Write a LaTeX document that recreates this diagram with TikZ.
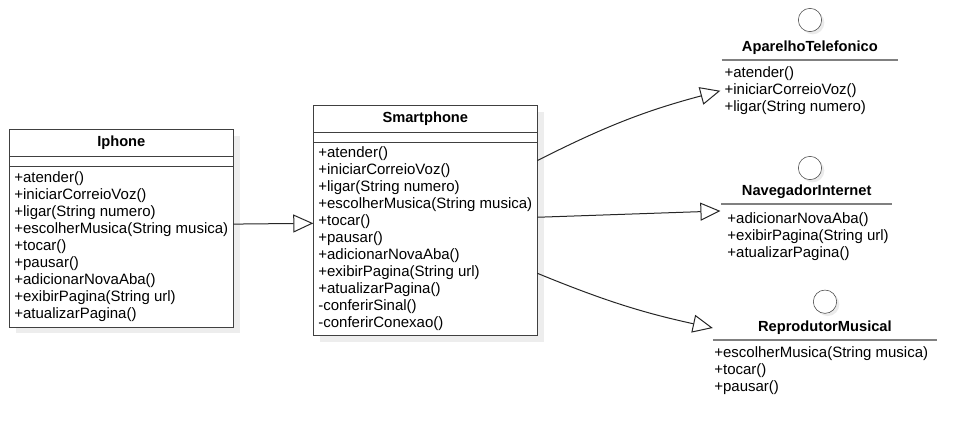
\documentclass[tikz,border=0pt]{standalone}
\usepackage{fontspec}
\setmainfont{Liberation Sans}
\usetikzlibrary{positioning,arrows.meta,shadows}

\begin{document}
\begin{tikzpicture}[x=0.75pt, y=-0.75pt,
		sombra/.style={drop shadow={shadow xshift=5pt, shadow yshift=-5pt, fill=black!7, opacity=1}},
		caixa/.style={draw=black!75, fill=white, sombra, outer sep=0pt, minimum width=168pt},
		cabeca/.style={caixa, minimum height=20.25pt, inner sep=0pt, font=\fontsize{11}{12.75}\selectfont\bfseries},
		atributos/.style={caixa, minimum height=7.5pt, inner sep=0pt},
		metodos/.style={caixa, align=left, inner xsep=3pt, inner ysep=0pt, font=\fontsize{11.25}{12.75}\selectfont},
		bolinha/.style={circle, draw=black!75, fill=white, minimum size=17.5pt, inner sep=0pt,
			drop shadow={shadow xshift=2pt, shadow yshift=-2pt, fill=black!8, opacity=1}},
		nomeinterface/.style={inner sep=0pt, minimum height=18pt, font=\fontsize{11}{12.75}\selectfont\bfseries},
		listainterface/.style={inner sep=0pt, align=left, font=\fontsize{11.25}{12.75}\selectfont},
		sublinhado/.style={draw=black!50, line width=1.5pt},
		realiza/.style={draw=black!85, line width=0.75pt, -{Triangle[open, length=15pt, width=13.5pt]}}
	]
	\useasboundingbox (0,0) rectangle (976,439);
	% classe Iphone
	\node[cabeca] (iphone) at (121.3,143) {Iphone};
	\node[atributos, below=0pt of iphone] (iphoneattr) {};
	\node[metodos, minimum height=120.2pt, below=0pt of iphoneattr] (iphoneops)
		{+atender()\\+iniciarCorreioVoz()\\+ligar(String numero)\\+escolherMusica(String musica)\\+tocar()\\+pausar()\\+adicionarNovaAba()\\+exibirPagina(String url)\\+atualizarPagina()};
	% classe Smartphone
	\node[cabeca] (smart) at (425.3,119.2) {Smartphone};
	\node[atributos, below=0pt of smart] (smartattr) {};
	\node[metodos, minimum height=144.5pt, below=0pt of smartattr] (smartops)
		{+atender()\\+iniciarCorreioVoz()\\+ligar(String numero)\\+escolherMusica(String musica)\\+tocar()\\+pausar()\\+adicionarNovaAba()\\+exibirPagina(String url)\\+atualizarPagina()\\-conferirSinal()\\-conferirConexao()};
	% interface AparelhoTelefonico
	\node[bolinha] (aparelho) at (810,20) {};
	\node[nomeinterface, minimum width=132pt] (aparelhonome) at (809.9,48) {AparelhoTelefonico};
	\draw[sublinhado] (aparelhonome.south west) -- (aparelhonome.south east);
	\node[listainterface, below right=4.7pt and 2pt of aparelhonome.south west] (aparelholista)
		{+atender()\\+iniciarCorreioVoz()\\+ligar(String numero)};
	% interface NavegadorInternet
	\node[bolinha] (navegador) at (810,168) {};
	\node[nomeinterface, minimum width=127.5pt] (navegadornome) at (806.7,191.3) {NavegadorInternet};
	\draw[sublinhado] (navegadornome.south west) -- (navegadornome.south east);
	\node[listainterface, below right=6.75pt and 4.3pt of navegadornome.south west] (navegadorlista)
		{+adicionarNovaAba()\\+exibirPagina(String url)\\+atualizarPagina()};
	% interface ReprodutorMusical
	\node[bolinha] (reprodutor) at (825,301.7) {};
	\node[nomeinterface, minimum width=167.8pt] (reprodutornome) at (824.9,328) {ReprodutorMusical};
	\draw[sublinhado] (reprodutornome.south west) -- (reprodutornome.south east);
	\node[listainterface, below right=4.5pt and 1pt of reprodutornome.south west] (reprodutorlista)
		{+escolherMusica(String musica)\\+tocar()\\+pausar()};
	% heranca e realizacoes
	\draw[realiza] ([yshift=16.9pt]iphoneops.east) -- ([yshift=11.8pt]smartops.west);
	\draw[realiza] (smartops.35) to[bend left=6] ([xshift=-3pt]aparelholista.west);
	\draw[realiza] (smartops.11) -- ([shift={(-1,7.4)}]navegadornome.south west);
	\draw[realiza] (smartops.343) to[bend right=5] (reprodutornome.west);
\end{tikzpicture}
\end{document}
